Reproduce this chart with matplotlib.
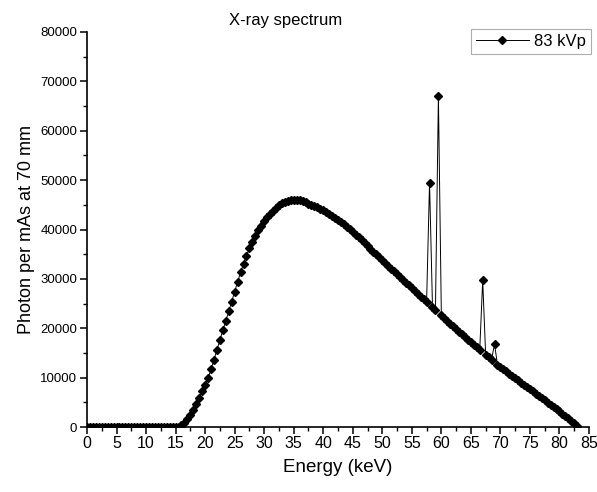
import matplotlib
matplotlib.use("Agg")
import matplotlib.pyplot as plt
from matplotlib.ticker import MultipleLocator

plt.rcParams['font.family'] = ['Liberation Sans', 'DejaVu Sans']

energy_kev = [i * 0.5 for i in range(0, 167)]  # 0.0 .. 83.0 keV in 0.5 keV bins

photons = [
    # 0.0 - 15.0
    0, 0, 0, 0, 0, 0, 0, 0, 0, 0,
    0, 0, 0, 0, 0, 0, 0, 0, 0, 0,
    0, 0, 0, 0, 0, 0, 0, 0, 0, 0,
    0,
    # 15.5 - 20.0
    100, 400, 900, 1600, 2500, 3500, 4700, 5900, 7200, 8500,
    # 20.5 - 25.0
    9900, 11700, 13600, 15600, 17600, 19600, 21500, 23400, 25400, 27400,
    # 25.5 - 30.0
    29400, 31300, 33100, 34700, 36200, 37500, 38700, 39800, 40800, 41700,
    # 30.5 - 35.0
    42500, 43200, 43800, 44400, 44900, 45300, 45600, 45800, 45950, 46000,
    # 35.5 - 40.0
    46000, 45900, 45700, 45500, 45250, 45000, 44750, 44500, 44200, 43900,
    # 40.5 - 45.0
    43550, 43200, 42800, 42400, 41950, 41500, 41050, 40600, 40050, 39500,
    # 45.5 - 50.0
    38950, 38400, 37800, 37250, 36700, 36100, 35500, 34950, 34400, 33800,
    # 50.5 - 55.0
    33250, 32650, 32100, 31500, 30950, 30400, 29800, 29250, 28700, 28100,
    # 55.5 - 60.0
    27500, 26950, 26400, 25850, 25300, 49500, 24250, 23700, 67000, 22600,
    # 60.5 - 65.0
    22050, 21500, 20950, 20400, 19850, 19300, 18750, 18200, 17700, 17150,
    # 65.5 - 70.0
    16650, 16150, 15650, 29700, 14650, 14150, 13650, 16800, 12650, 12150,
    # 70.5 - 75.0
    11700, 11250, 10800, 10350, 9900, 9450, 9000, 8550, 8100, 7650,
    # 75.5 - 80.0
    7200, 6750, 6300, 5850, 5400, 4950, 4500, 4050, 3600, 3150,
    # 80.5 - 83.0
    2700, 2250, 1800, 1300, 800, 300,
]

series_label = "83 kVp"
x_ticks = list(range(0, 90, 5))
y_ticks = list(range(0, 90000, 10000))

fig = plt.figure(figsize=(5.97, 4.92), dpi=100)
ax = fig.add_axes([87/597, 1 - 427/492, (589 - 87)/597, (427 - 32)/492])

ax.plot(energy_kev, photons, color='black', linewidth=0.7, marker='D',
        markersize=4.3, markerfacecolor='black', markeredgecolor='black',
        label=series_label, clip_on=True)

ax.set_xlim(0, 85)
ax.set_ylim(0, 80000)
ax.set_xticks(x_ticks)
ax.set_yticks(y_ticks)
ax.xaxis.set_minor_locator(MultipleLocator(2.5))
ax.yaxis.set_minor_locator(MultipleLocator(5000))

for side in ['top', 'right']:
    ax.spines[side].set_visible(False)
for side in ['left', 'bottom']:
    ax.spines[side].set_linewidth(1.2)
    ax.spines[side].set_zorder(3)

ax.tick_params(axis='both', which='major', direction='out', length=5, width=1.1)
ax.tick_params(axis='both', which='minor', direction='out', length=3, width=1.0)
ax.tick_params(axis='x', labelsize=11.5, pad=1.5)
ax.tick_params(axis='y', labelsize=9.5, pad=2)

ax.set_xlabel("Energy (keV)", fontsize=13.5, labelpad=6)
ax.set_ylabel("Photon per mAs at 70 mm", fontsize=13, labelpad=4)
fig.text(286/597, 1 - 21/492, "X-ray spectrum", ha='center', va='center', fontsize=12)

leg = ax.legend(loc='upper right', bbox_to_anchor=(591/597, 1 - 29/492),
                bbox_transform=fig.transFigure, frameon=True, fancybox=False,
                fontsize=12, handlelength=3.2, borderpad=0.3, handletextpad=0.3,
                borderaxespad=0)
leg.get_frame().set_edgecolor('#999999')
leg.get_frame().set_linewidth(0.8)

fig.savefig("out.png", dpi=100)
